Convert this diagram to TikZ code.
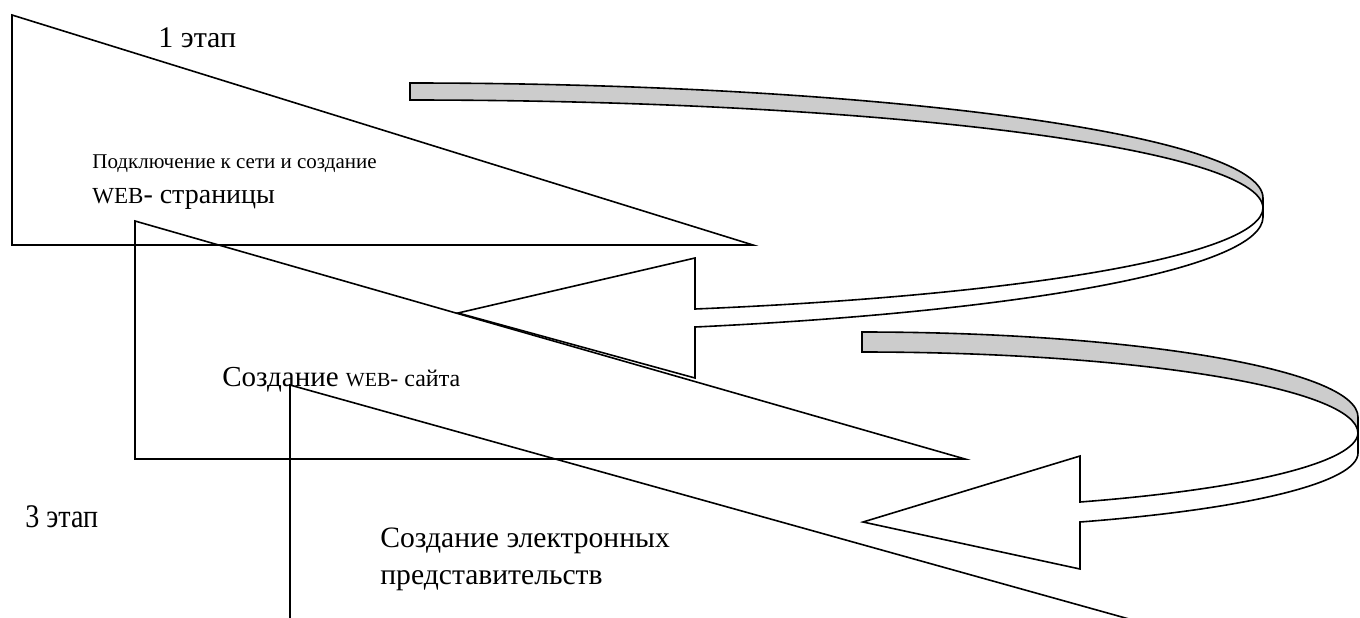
\documentclass[tikz,border=0pt]{standalone}
\usepackage{fontspec}
\setmainfont{Liberation Serif}
\newfontfamily\narrowfont[FakeStretch=0.85]{Liberation Serif}
\newcommand{\sz}[1]{\fontsize{#1}{#1}\selectfont}
\definecolor{ribbon}{gray}{0.8}

\tikzset{
  stage/.style={draw=black, line width=0.8pt},
  band/.style={draw=black, line width=0.8pt, fill=ribbon},
  head/.style={draw=black, line width=0.8pt, fill=white},
  lbl/.style={inner sep=0pt, anchor=base west},
}

\begin{document}
\begin{tikzpicture}[x=0.5pt, y=-0.5pt]
  \useasboundingbox (0,0) rectangle (1360,617);
  \clip (0,0) rectangle (1360,617);

  % stages
  \draw[stage] (12,15) -- (12,245) -- (753,245) -- cycle;
  \draw[stage] (135,221) -- (135,459) -- (965,459) -- cycle;
  \draw[stage] (290,385) -- (290,624) -- (1147,624) -- cycle;

  % turn from stage 1 to stage 2
  \draw[band] (410,83) .. controls (881,83) and (1263,135) .. (1263,198)
    -- (1263,208) .. controls (1262,148) and (880,100) .. (410,100) -- cycle;
  \draw[head] (1263,208) .. controls (1262,254) and (1033,295) .. (695,309)
    -- (695,258) -- (458,313) -- (695,378) -- (695,327)
    .. controls (1034,311) and (1263,267) .. (1263,217) -- cycle;

  % turn from stage 2 to stage 3
  \draw[band] (862,332) .. controls (1136,332) and (1358,370) .. (1358,417)
    -- (1358,433) .. controls (1357,388) and (1135,352) .. (862,352) -- cycle;
  \draw[head] (1358,433) .. controls (1357,462) and (1249,489) .. (1080,502)
    -- (1080,456) -- (863,522) -- (1080,569) -- (1080,522)
    .. controls (1250,509) and (1358,482) .. (1358,453) -- cycle;

  \node[lbl, font=\sz{15}] (stage1) at (158,47) {1 этап};
  \node[lbl, font=\sz{10.5}] (task1) at (92,168) {Подключение к сети и создание};
  \node[lbl] (task1b) at (92,203) {{\sz{11.5}WEB}{\sz{14}- страницы}};
  \node[lbl] (task2) at (222,386) {{\sz{14.5}Создание }{\sz{10}WEB}{\sz{12}- сайта}};
  \node[lbl, font=\narrowfont\sz{16.5}] (stage3) at (25,527) {3 этап};
  \node[lbl, font=\sz{14.8}] (task3) at (380,547) {Создание электронных};
  \node[lbl, font=\sz{14.8}] (task3b) at (380,584) {представительств};
\end{tikzpicture}
\end{document}
